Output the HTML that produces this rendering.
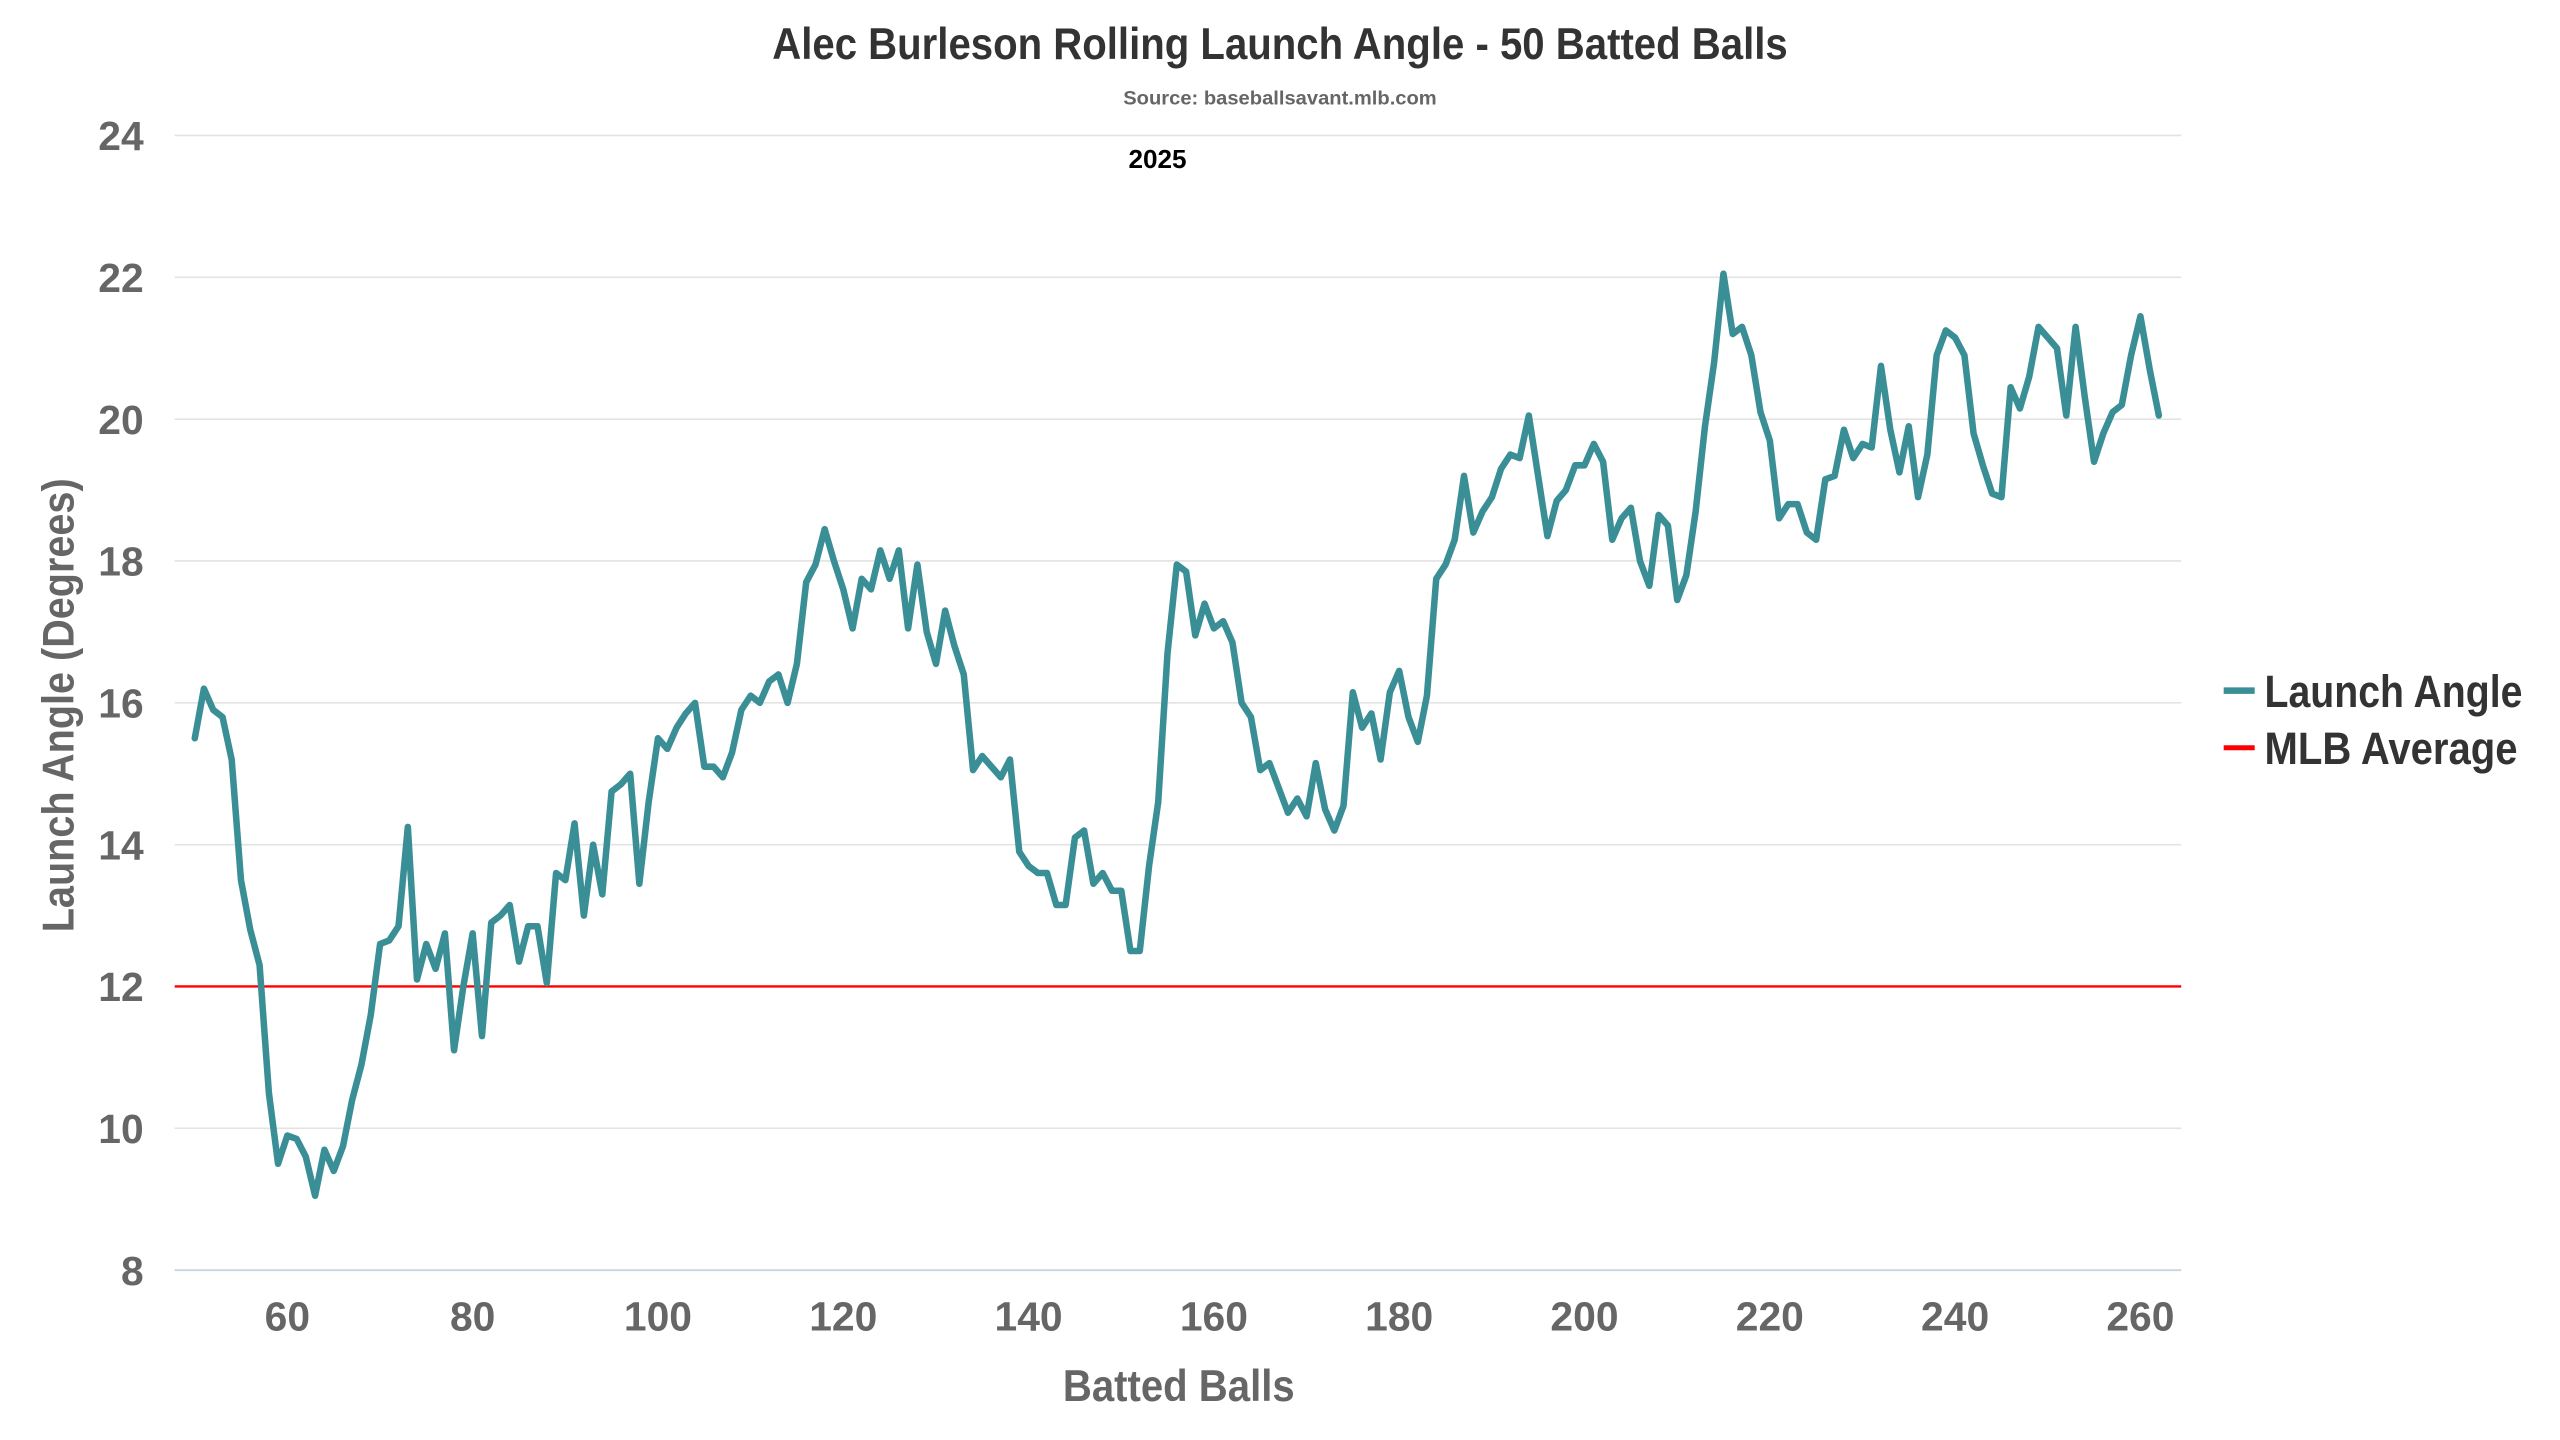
<!DOCTYPE html>
<html><head><meta charset="utf-8"><style>
html,body{margin:0;padding:0;background:#fff;}
svg{display:block;}
text{font-family:"Liberation Sans Narrow","Liberation Sans",sans-serif;font-weight:bold;}
</style></head><body>
<svg id="c" width="2560" height="1440" viewBox="0 0 1568 882" preserveAspectRatio="none" xmlns="http://www.w3.org/2000/svg">
<rect width="1568" height="882" fill="#fff"/>
<g id="grid" stroke="#e3e3e3" stroke-width="1"></g>
<line x1="107" y1="778" x2="1336" y2="778" stroke="#c9d3e6" stroke-width="1.2"/>
<g id="yl" fill="#666" font-size="25" text-anchor="end"></g>
<g id="xl" fill="#666" font-size="25" text-anchor="middle"></g>
<line x1="107" y1="604.2" x2="1336" y2="604.2" stroke="#ff0000" stroke-width="1.5"/>
<path id="ln" fill="none" stroke="#3a8f96" stroke-width="4" stroke-linejoin="round" stroke-linecap="round"/>
<text x="473" y="36" font-size="27" fill="#333" textLength="622" lengthAdjust="spacingAndGlyphs">Alec Burleson Rolling Launch Angle - 50 Batted Balls</text>
<text x="688" y="64" font-size="12" fill="#666" textLength="192" lengthAdjust="spacingAndGlyphs">Source: baseballsavant.mlb.com</text>
<text x="709" y="103" font-size="16" fill="#000" text-anchor="middle">2025</text>
<text x="651" y="858" font-size="27" fill="#666" textLength="142" lengthAdjust="spacingAndGlyphs">Batted Balls</text>
<text transform="translate(45,571) rotate(-90)" font-size="27" fill="#666" textLength="278" lengthAdjust="spacingAndGlyphs">Launch Angle (Degrees)</text>
<line x1="1362" y1="423" x2="1381" y2="423" stroke="#3a8f96" stroke-width="4"/>
<text x="1387" y="433" font-size="28" fill="#333" textLength="158" lengthAdjust="spacingAndGlyphs">Launch Angle</text>
<line x1="1362" y1="458" x2="1381" y2="458" stroke="#ff0000" stroke-width="3"/>
<text x="1387" y="468" font-size="28" fill="#333" textLength="155" lengthAdjust="spacingAndGlyphs">MLB Average</text>
</svg>
<script>
var Y=function(v){return 778-(v-8)*43.44;},X=function(x){return 176+(x-60)*5.675;};
var g=document.getElementById('grid'),yl=document.getElementById('yl'),xl=document.getElementById('xl'),ns="http://www.w3.org/2000/svg";
for(var v=8;v<=24;v+=2){var y=Y(v);if(v>8){var l=document.createElementNS(ns,'line');l.setAttribute('x1',107);l.setAttribute('x2',1336);l.setAttribute('y1',y);l.setAttribute('y2',y);g.appendChild(l);}
var t=document.createElementNS(ns,'text');t.setAttribute('x',88);t.setAttribute('y',y+9);t.textContent=v;yl.appendChild(t);}
for(var x=60;x<=260;x+=20){var t=document.createElementNS(ns,'text');t.setAttribute('x',X(x));t.setAttribute('y',815);t.textContent=x;xl.appendChild(t);}
var d=[15.5,16.2,15.9,15.8,15.2,13.5,12.8,12.3,10.5,9.5,9.9,9.85,9.6,9.05,9.7,9.4,9.75,10.4,10.9,11.6,12.6,12.65,12.85,14.25,12.1,12.6,12.25,12.75,11.1,12.0,12.75,11.3,12.9,13.0,13.15,12.35,12.85,12.85,12.05,13.6,13.5,14.3,13.0,14.0,13.3,14.75,14.85,15.0,13.45,14.6,15.5,15.35,15.65,15.85,16.0,15.1,15.1,14.95,15.3,15.9,16.1,16.0,16.3,16.4,16.0,16.55,17.7,17.95,18.45,18.0,17.6,17.05,17.75,17.6,18.15,17.75,18.15,17.05,17.95,17.0,16.55,17.3,16.8,16.4,15.05,15.25,15.1,14.95,15.2,13.9,13.7,13.6,13.6,13.15,13.15,14.1,14.2,13.45,13.6,13.35,13.35,12.5,12.5,13.7,14.6,16.7,17.95,17.85,16.95,17.4,17.05,17.15,16.85,16.0,15.8,15.05,15.15,14.8,14.45,14.65,14.4,15.15,14.5,14.2,14.55,16.15,15.65,15.85,15.2,16.15,16.45,15.8,15.45,16.1,17.75,17.95,18.3,19.2,18.4,18.7,18.9,19.3,19.5,19.45,20.05,19.2,18.35,18.85,19.0,19.35,19.35,19.65,19.4,18.3,18.6,18.75,18.0,17.65,18.65,18.5,17.45,17.8,18.7,19.9,20.8,22.05,21.2,21.3,20.9,20.1,19.7,18.6,18.8,18.8,18.4,18.3,19.15,19.2,19.85,19.45,19.65,19.6,20.75,19.85,19.25,19.9,18.9,19.5,20.9,21.25,21.15,20.9,19.8,19.35,18.95,18.9,20.45,20.15,20.6,21.3,21.15,21.0,20.05,21.3,20.3,19.4,19.8,20.1,20.2,20.9,21.45,20.7,20.05];
var p="";for(var i=0;i<d.length;i++){p+=(i?"L":"M")+X(50+i).toFixed(1)+","+Y(d[i]).toFixed(1);}
document.getElementById('ln').setAttribute('d',p);
</script>
</body></html>
